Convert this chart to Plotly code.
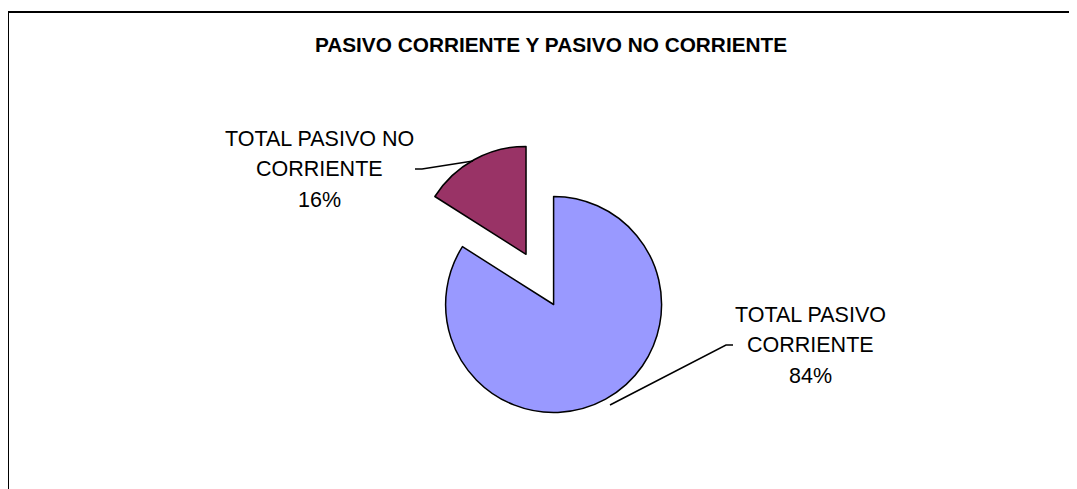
import textwrap
import plotly.graph_objects as go

# Data
labels = ["TOTAL PASIVO CORRIENTE", "TOTAL PASIVO NO CORRIENTE"]
values = [84, 16]
colors = ["#9999FF", "#993366"]
pulls = [0, 0.53]

# page body has an 8px margin, so the figure sits at (8, 8)
OFF = 8
W, H = 1077 - OFF, 489 - OFF


def px(x):
    return (x - OFF) / W


def py(y):
    return 1 - (y - OFF) / H


total = sum(values)
pct = [round(v / total * 100) for v in values]
label_lines = [textwrap.wrap(l, 15) + ["%d%%" % p] for l, p in zip(labels, pct)]

fig = go.Figure(go.Pie(
    labels=labels, values=values, sort=False, direction="clockwise", rotation=0,
    pull=pulls, textinfo="none", hoverinfo="label+percent",
    marker=dict(colors=colors, line=dict(color="black", width=1.5)),
    domain=dict(x=[px(353.6), px(753.6)], y=[py(469.7), py(139.3)]),
    showlegend=False,
))

font = dict(family="Liberation Sans, Arial", size=21.5, color="black")

# label positions (middle line) and leader lines, in pixels
label_pos = [(810, 345), (319, 169)]
line_gap = 30.5
leaders = [[(733, 345), (726, 345), (610, 405)],
           [(415, 169), (422, 169), (473, 161)]]

for lines, (x, y) in zip(label_lines, label_pos):
    for i, ln in enumerate(lines):
        fig.add_annotation(x=px(x), y=py(y + (i - 1) * line_gap), xref="paper", yref="paper",
                           text=ln, showarrow=False, xanchor="center", yanchor="middle", font=font)

for pts in leaders:
    path = "M " + " L ".join("%f,%f" % (px(a), py(b)) for a, b in pts)
    fig.add_shape(type="path", path=path, xref="paper", yref="paper", line=dict(color="black", width=1.5))

# chart border
fig.add_shape(type="rect", xref="paper", yref="paper", x0=px(8), y0=-0.05, x1=1.05, y1=py(12),
              line=dict(color="black", width=2))

fig.update_layout(
    width=W, height=H, margin=dict(l=0, r=0, t=0, b=0),
    paper_bgcolor="white", plot_bgcolor="white",
    title=dict(text="<b>PASIVO CORRIENTE Y PASIVO NO CORRIENTE</b>", x=px(551), xanchor="center",
               y=py(45), yanchor="middle", font=dict(family="Liberation Sans, Arial", size=20.8, color="black")),
)

fig.write_html("out.html")
